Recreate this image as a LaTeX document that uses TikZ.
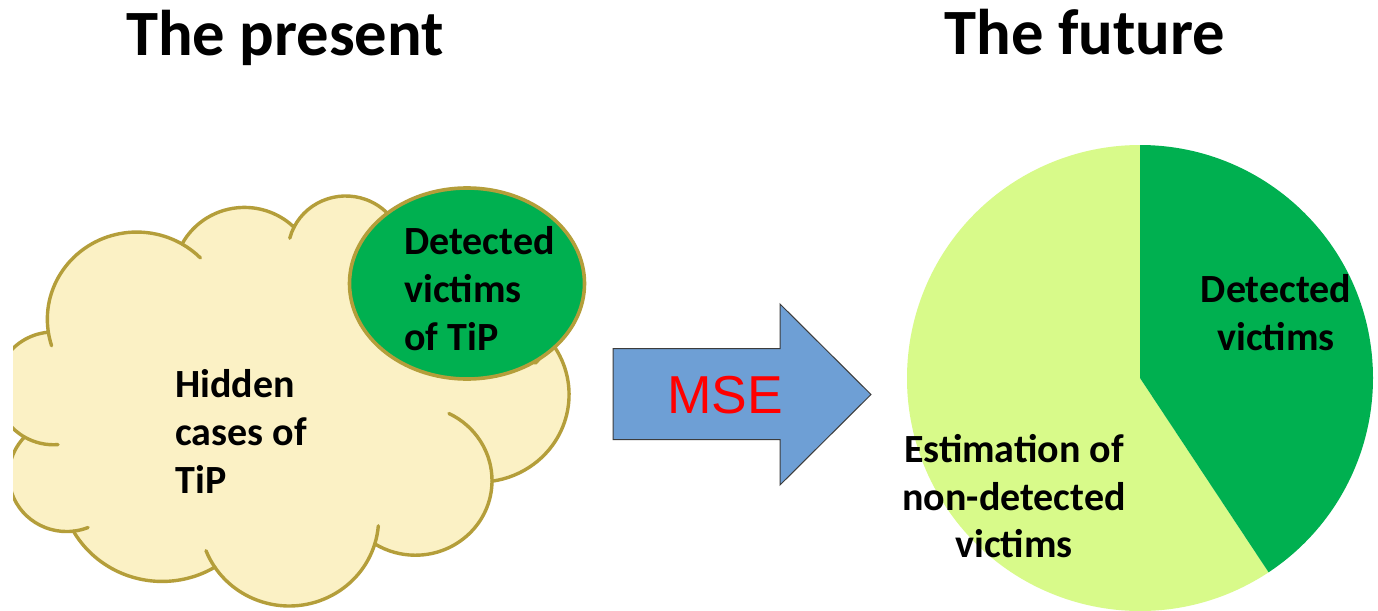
\documentclass[tikz,border=0pt]{standalone}
\usepackage{fontspec}
\setmainfont{Carlito}
\newfontfamily\arialf{Liberation Sans}
\definecolor{cloudfill}{RGB}{251,241,197}
\definecolor{cloudline}{RGB}{180,158,58}
\definecolor{darkg}{RGB}{0,176,80}
\definecolor{lightg}{RGB}{216,250,138}
\definecolor{arrowfill}{RGB}{110,159,213}
\definecolor{arrowline}{RGB}{60,60,60}
\definecolor{msered}{RGB}{255,0,0}
% visual angle (DrawingML) -> parametric angle for an elliptic arc
\newcommand\cldang[5]{%
  \pgfmathsetmacro\cldts{atan2((#2)*sin(#4),(#3)*cos(#4))}%
  \pgfmathsetmacro\cldtr{atan2((#2)*sin((#4)+(#5)),(#3)*cos((#4)+(#5)))}%
  \pgfmathsetmacro\cldte{(\cldts)+mod((\cldtr)-(\cldts)+720,360)}%
  \expandafter\let\csname cld#1s\endcsname\cldts
  \expandafter\let\csname cld#1e\endcsname\cldte}
\cldang{A}{67.53}{91.90}{-190.4875}{123.7805}
\cldang{B}{53.33}{72.67}{-144.1024}{89.9452}
\cldang{C}{43.65}{59.45}{-145.8079}{99.7230}
\cldang{D}{48.57}{65.95}{-130.9861}{117.2417}
\cldang{E}{53.33}{72.73}{-78.7089}{109.0269}
\cldang{F}{67.75}{92.20}{-46.2673}{130.2690}
\cldang{G}{57.85}{78.67}{0.6250}{114.0333}
\cldang{H}{67.52}{92.15}{22.4516}{115.1726}
\cldang{I}{77.20}{105.43}{66.2426}{75.7110}
\cldang{J}{43.60}{59.18}{-274.9421}{146.7356}
\cldang{K}{43.45}{59.45}{-246.8285}{152.5189}
\begin{document}
\begin{tikzpicture}[x=0.5pt,y=-0.5pt,
  cloudshape/.style={fill=cloudfill,draw=cloudline,line width=1.7pt,line join=round},
  cloudtail/.style={draw=cloudline,line width=1.7pt,line cap=round},
  ellstyle/.style={fill=darkg,draw=cloudline,line width=1.8pt},
  arrowstyle/.style={fill=arrowfill,draw=arrowline,line width=0.5pt,line join=miter},
  titletext/.style={anchor=base,inner sep=0pt,font=\bfseries\fontsize{32.3}{38}\selectfont},
  bodyleft/.style={anchor=base west,inner sep=0pt,font=\bfseries\fontsize{20}{24}\selectfont},
  bodymid/.style={anchor=base,inner sep=0pt,font=\bfseries\fontsize{20}{24}\selectfont},
  msetext/.style={anchor=base,inner sep=0pt,text=msered,font=\arialf\fontsize{26.7}{30}\selectfont}]
\useasboundingbox (0,0) rectangle (1378,611);
\fill[white] (0,0) rectangle (1378,611);

% titles
\node[titletext] (tpres) at (285,55) {The present};
\node[titletext] (tfut) at (1085,54) {The future};

% cloud (PowerPoint cloud shape), clipped at the left
\begin{scope}
\clip (13,0) rectangle (1378,611);
\begin{scope}[shift={(-1.75pt,-97.325pt)},x=0.6624pt,y=-0.47435pt]
\draw[cloudshape] (39,143.7) coordinate (j0)
  arc[start angle=\cldAs,end angle=\cldAe,x radius=67.53,y radius=91.90] coordinate (jA)
  arc[start angle=\cldBs,end angle=\cldBe,x radius=53.33,y radius=72.67] coordinate (jB)
  arc[start angle=\cldCs,end angle=\cldCe,x radius=43.65,y radius=59.45] coordinate (jC)
  arc[start angle=\cldDs,end angle=\cldDe,x radius=48.57,y radius=65.95] coordinate (jD)
  arc[start angle=\cldEs,end angle=\cldEe,x radius=53.33,y radius=72.73] coordinate (jE)
  arc[start angle=\cldFs,end angle=\cldFe,x radius=67.75,y radius=92.20] coordinate (jF)
  arc[start angle=\cldGs,end angle=\cldGe,x radius=57.85,y radius=78.67] coordinate (jG)
  arc[start angle=\cldHs,end angle=\cldHe,x radius=67.52,y radius=92.15] coordinate (jH)
  arc[start angle=\cldIs,end angle=\cldIe,x radius=77.20,y radius=105.43] coordinate (jI)
  arc[start angle=\cldJs,end angle=\cldJe,x radius=43.60,y radius=59.18] coordinate (jJ)
  arc[start angle=\cldKs,end angle=\cldKe,x radius=43.45,y radius=59.45] -- cycle;
% inner tails
\draw[cloudtail] (j0) arc[start angle=\cldAs,end angle=\cldAs-10,x radius=67.53,y radius=91.90];
\draw[cloudtail] (jA) arc[start angle=\cldAe,end angle=\cldAe+15,x radius=67.53,y radius=91.90];
\draw[cloudtail] (jB) arc[start angle=\cldCs,end angle=\cldCs-12,x radius=43.65,y radius=59.45];
\draw[cloudtail] (jC) arc[start angle=\cldDs,end angle=\cldDs-12,x radius=48.57,y radius=65.95];
\draw[cloudtail] (jD) arc[start angle=\cldDe,end angle=\cldDe+12,x radius=48.57,y radius=65.95];
\draw[cloudtail] (jE) arc[start angle=\cldEe,end angle=\cldEe+22,x radius=53.33,y radius=72.73];
\draw[cloudtail] (jF) arc[start angle=\cldGs,end angle=\cldGs-64.5,x radius=57.85,y radius=78.67];
\draw[cloudtail] (jG) arc[start angle=\cldHs,end angle=\cldHs-12.1,x radius=67.52,y radius=92.15];
\draw[cloudtail] (jH) arc[start angle=\cldHe,end angle=\cldHe+12.2,x radius=67.52,y radius=92.15];
\draw[cloudtail] (jI) arc[start angle=\cldJs,end angle=\cldJs-15.1,x radius=43.60,y radius=59.18];
\draw[cloudtail] (jJ) arc[start angle=\cldKs,end angle=\cldKs-34.8,x radius=43.45,y radius=59.45];
\end{scope}
\end{scope}

% detected victims ellipse
\draw[ellstyle] (467,283.5) ellipse[x radius=117.5,y radius=95.5];

% cloud texts
\node[bodyleft] (hid1) at (175,397) {Hidden};
\node[bodyleft] (hid2) at (175,445) {cases of};
\node[bodyleft] (hid3) at (175,493) {TiP};
\node[bodyleft] (det1) at (404,254) {Detected};
\node[bodyleft] (det2) at (404,302) {victims};
\node[bodyleft] (det3) at (404,350) {of TiP};

% MSE arrow
\draw[arrowstyle] (613,348.5) -- (780,348.5) -- (780,304) -- (871,394.5)
  -- (780,485) -- (780,439.5) -- (613,439.5) -- cycle;
\node[msetext] (mse) at (725,413) {MSE};

% pie
\fill[lightg] (1140,378) -- +(56.5:233) arc[start angle=56.5,end angle=270,radius=233] -- cycle;
\fill[darkg] (1140,378) -- +(-90:233) arc[start angle=-90,end angle=56.5,radius=233] -- cycle;
\node[bodymid] (pd1) at (1276,302) {Detected};
\node[bodymid] (pd2) at (1276,350) {victims};
\node[bodymid] (pe1) at (1014,462) {Estimation of};
\node[bodymid] (pe2) at (1014,510) {non-detected};
\node[bodymid] (pe3) at (1014,557) {victims};
\end{tikzpicture}
\end{document}
